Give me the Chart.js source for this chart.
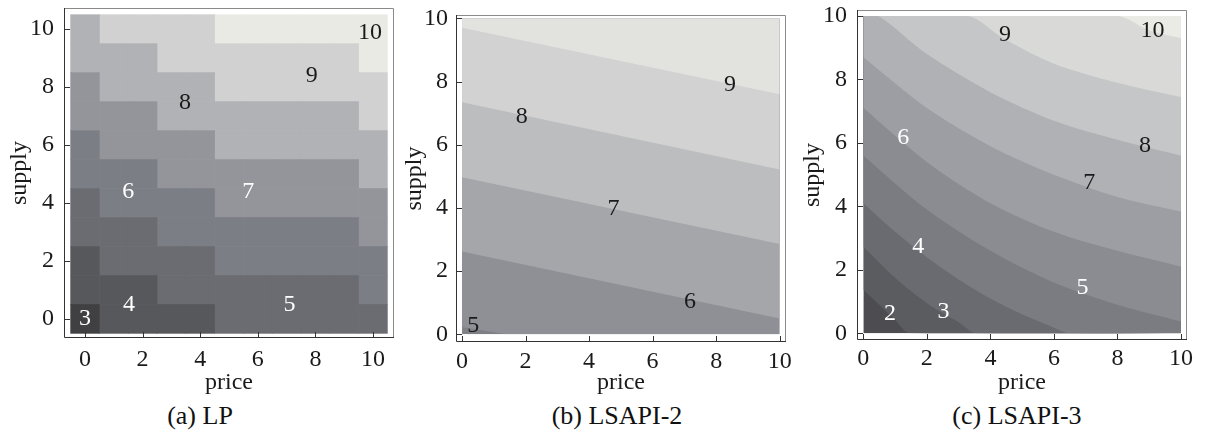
<!DOCTYPE html>
<html>
<head>
<meta charset="utf-8">
<script src="https://cdn.jsdelivr.net/npm/chart.js@4/dist/chart.umd.min.js"></script>
<style>
  body { margin: 0; background: #fff; width: 1210px; height: 444px; position: relative; overflow: hidden; }
  canvas { position: absolute; top: 0; }
  .cap { position: absolute; top: 401px; height: 30px; line-height: 30px; width: 300px; text-align: center;
         font-family: "Liberation Serif", serif; font-size: 26px; color: #111; }
</style>
</head>
<body>
<canvas id="chartA" width="400" height="400" style="left:0px;width:400px;height:400px"></canvas>
<canvas id="chartB" width="400" height="400" style="left:400px;width:400px;height:400px"></canvas>
<canvas id="chartC" width="410" height="400" style="left:800px;width:410px;height:400px"></canvas>
<div class="cap" style="left:50px">(a) LP</div>
<div class="cap" style="left:467px">(b) LSAPI-2</div>
<div class="cap" style="left:867px">(c) LSAPI-3</div>
<script>
// ticks shared by all three panels
const priceTicks = [0, 2, 4, 6, 8, 10];
const supplyTicks = [0, 2, 4, 6, 8, 10];

// (a) LP : one level per grid cell, rows = supply 0..10, columns = price 0..10
const lpPrice = [0, 1, 2, 3, 4, 5, 6, 7, 8, 9, 10];
const lpSupply = [0, 1, 2, 3, 4, 5, 6, 7, 8, 9, 10];
const lpLevels = [
  [3, 4, 4, 4, 4, 5, 5, 5, 5, 5, 5],
  [4, 4, 4, 5, 5, 5, 5, 5, 5, 5, 6],
  [4, 5, 5, 5, 5, 6, 6, 6, 6, 6, 6],
  [5, 5, 5, 6, 6, 6, 6, 6, 6, 6, 7],
  [5, 6, 6, 6, 6, 7, 7, 7, 7, 7, 7],
  [6, 6, 6, 7, 7, 7, 7, 7, 7, 7, 8],
  [6, 7, 7, 7, 7, 8, 8, 8, 8, 8, 8],
  [7, 7, 7, 8, 8, 8, 8, 8, 8, 8, 9],
  [7, 8, 8, 8, 8, 9, 9, 9, 9, 9, 9],
  [8, 8, 8, 9, 9, 9, 9, 9, 9, 9, 10],
  [8, 9, 9, 9, 9, 10, 10, 10, 10, 10, 10]
];
const lpLabelText = ['3', '4', '5', '6', '7', '8', '9', '10'];
const lpLabelPrice = [0, 1.53, 7.1, 1.5, 5.67, 3.47, 7.87, 9.9];
const lpLabelSupply = [0, 0.48, 0.48, 4.4, 4.4, 7.45, 8.4, 9.87];

// (b) LSAPI-2 : contour lines, price / supply points of each level
const b2Levels = [5, 6, 7, 8, 9];
const b2Price = [[0, 1.4, 10], [0, 10], [0, 10], [0, 10], [0, 10]];
const b2Supply = [[0.23, 0, 0], [2.62, 0.5], [4.97, 2.86], [7.35, 5.22], [9.71, 7.6]];
const b2LabelPrice = [0.35, 7.18, 4.77, 1.88, 8.44];
const b2LabelSupply = [0.28, 1.03, 3.99, 6.9, 7.9];

// (c) LSAPI-3 : curved contour lines
const c3Levels = [2, 3, 4, 5, 6, 7, 8, 9, 10];
const c3Price = [
  [0, 0.5, 1, 1.47, 10],
  [0, 1, 2, 3, 3.57, 10],
  [0, 1, 2, 3, 4, 5, 6, 6.5, 10],
  [0, 2, 4, 6, 8, 10],
  [0, 2, 4, 6, 8, 10],
  [0, 2, 4, 6, 8, 10],
  [0, 0.47, 2, 4, 6, 8, 10],
  [0, 3.3, 4.4, 6, 8, 10],
  [0, 8, 9, 10]
];
const c3Supply = [
  [1.37, 0.9, 0.42, 0, 0],
  [2.73, 1.75, 0.95, 0.35, 0, 0],
  [4.1, 3.2, 2.4, 1.7, 1.1, 0.6, 0.18, 0, 0],
  [5.6, 3.9, 2.6, 1.6, 0.9, 0.37],
  [7.1, 5.4, 4.1, 3.2, 2.6, 2.1],
  [8.7, 7.1, 5.9, 5.0, 4.3, 3.84],
  [10, 10, 8.8, 7.6, 6.7, 6.1, 5.6],
  [10, 10, 9.3, 8.5, 7.9, 7.45],
  [10, 10, 9.55, 9.3]
];
const c3LabelPrice = [0.84, 2.52, 1.73, 6.9, 1.26, 7.11, 8.87, 4.46, 9.1];
const c3LabelSupply = [0.63, 0.68, 2.73, 1.45, 6.18, 4.75, 5.9, 9.4, 9.54];

// gray shades
const lpShade = { 3: '#404042', 4: '#57585c', 5: '#6a6c72', 6: '#7c7e85', 7: '#93959b', 8: '#b0b2b5', 9: '#d1d1d1', 10: '#eaeae5' };
const b2Base = '#7f8086';
const b2Shade = ['#8e9095', '#a4a6aa', '#bcbdbf', '#d2d2d2', '#e2e2de'];
const c3Base = '#4d4d51';
const c3Shade = ['#5b5c60', '#6a6b70', '#7a7c82', '#8a8c92', '#9c9ea3', '#b0b1b4', '#c5c6c7', '#d9d9d8', '#ebebe6'];

const serif = '"Liberation Serif", "Times New Roman", serif';
const ink = '#1a1a1a';

// frame, inward ticks, contour labels, clipping of the filled bands
const framePlugin = {
  id: 'frame',
  beforeDatasetsDraw(chart, args, opts) {
    if (!opts.clipData) return;
    const ctx = chart.ctx, x = chart.scales.x, y = chart.scales.y;
    const l = x.getPixelForValue(0), r = x.getPixelForValue(10);
    const t = y.getPixelForValue(10), b = y.getPixelForValue(0);
    ctx.save();
    ctx.beginPath();
    ctx.rect(l, t, r - l, b - t);
    ctx.clip();
    ctx.fillStyle = opts.base;
    ctx.fillRect(l, t, r - l, b - t);
  },
  afterDatasetsDraw(chart, args, opts) {
    const ctx = chart.ctx, x = chart.scales.x, y = chart.scales.y;
    if (opts.clipData) ctx.restore();
    ctx.save();
    ctx.font = '24px ' + serif;
    ctx.textAlign = 'center';
    ctx.textBaseline = 'middle';
    opts.labels.forEach(lb => {
      ctx.fillStyle = lb.color;
      ctx.fillText(lb.text, x.getPixelForValue(lb.p), y.getPixelForValue(lb.s));
    });
    ctx.restore();
  },
  afterDraw(chart) {
    const ctx = chart.ctx, a = chart.chartArea, x = chart.scales.x, y = chart.scales.y;
    ctx.save();
    ctx.lineWidth = 1;
    ctx.strokeStyle = '#8a8a8a';
    ctx.beginPath();
    ctx.moveTo(a.left, a.top + 0.5);
    ctx.lineTo(a.right - 0.5, a.top + 0.5);
    ctx.lineTo(a.right - 0.5, a.bottom);
    ctx.stroke();
    ctx.strokeStyle = '#333';
    ctx.beginPath();
    ctx.moveTo(a.left + 0.5, a.top);
    ctx.lineTo(a.left + 0.5, a.bottom - 0.5);
    ctx.lineTo(a.right, a.bottom - 0.5);
    ctx.stroke();
    ctx.beginPath();
    x.ticks.forEach(t => {
      const px = Math.round(x.getPixelForValue(t.value)) + 0.5;
      ctx.moveTo(px, a.bottom);
      ctx.lineTo(px, a.bottom - 6);
    });
    y.ticks.forEach(t => {
      const py = Math.round(y.getPixelForValue(t.value)) + 0.5;
      ctx.moveTo(a.left, py);
      ctx.lineTo(a.left + 6, py);
    });
    ctx.stroke();
    ctx.restore();
  }
};

function axes(f) {
  return {
    x: {
      type: 'linear', min: f.xMin, max: f.xMax, offset: false,
      afterBuildTicks: s => { s.ticks = priceTicks.map(v => ({ value: v })); },
      afterFit: s => { s.height = f.xAxisH; s.paddingLeft = 0; s.paddingRight = 0; },
      grid: { display: false, drawTicks: false },
      border: { display: false },
      ticks: { font: { family: serif, size: 24 }, color: ink, padding: f.xPad, maxRotation: 0, autoSkip: false },
      title: { display: true, text: 'price', font: { family: serif, size: 24 }, color: ink, padding: { top: 0, bottom: f.xTitlePad } }
    },
    y: {
      type: 'linear', min: f.yMin, max: f.yMax,
      afterBuildTicks: s => { s.ticks = supplyTicks.map(v => ({ value: v })); },
      afterFit: s => { s.width = f.yAxisW; s.paddingTop = 0; s.paddingBottom = 0; },
      grid: { display: false, drawTicks: false },
      border: { display: false },
      ticks: { font: { family: serif, size: 24 }, color: ink, padding: f.yPad, autoSkip: false },
      title: { display: true, text: 'supply', font: { family: serif, size: 24 }, color: ink, padding: { top: f.yTitlePad, bottom: 0 } }
    }
  };
}

function common(f, pluginOpts) {
  return {
    responsive: false,
    animation: false,
    events: [],
    layout: { padding: { top: f.top, right: f.right, left: 0, bottom: 0 } },
    plugins: { legend: { display: false }, tooltip: { enabled: false }, frame: pluginOpts },
    scales: axes(f)
  };
}

// ---- (a) LP as floating bars, one dataset per level
const lpLevelList = [3, 4, 5, 6, 7, 8, 9, 10];
const lpDatasets = lpLevelList.map(level => {
  const cells = [];
  lpSupply.forEach((s, i) => {
    lpPrice.forEach((p, j) => {
      if (lpLevels[i][j] === level) cells.push({ x: p, y: [s - 0.5, s + 0.5] });
    });
  });
  return {
    label: 'LP ' + level, data: cells, backgroundColor: lpShade[level],
    borderWidth: 0, grouped: false, barPercentage: 1, categoryPercentage: 1
  };
});
const lpLabels = lpLabelText.map((t, i) => ({
  text: t, p: lpLabelPrice[i], s: lpLabelSupply[i], color: Number(t) <= 7 ? '#fff' : ink
}));

new Chart(document.getElementById('chartA'), {
  type: 'bar',
  data: { datasets: lpDatasets },
  options: common({ top: 8, right: 6, yAxisW: 64, xAxisH: 62, xMin: -0.73, xMax: 10.73, yMin: -0.66, yMax: 10.73,
                    xPad: 7, yPad: 10, xTitlePad: 3, yTitlePad: 5.5 },
                  { clipData: false, labels: lpLabels }),
  plugins: [framePlugin]
});

// contour charts: each level fills the area above its line, lowest level drawn first
function contourSets(levels, prices, supplies, shades, tension) {
  return levels.map((lv, k) => ({
    label: 'level ' + lv,
    data: prices[k].map((p, i) => ({ x: p, y: supplies[k][i] })),
    fill: 'end',
    backgroundColor: shades[k],
    borderWidth: 0,
    pointRadius: 0,
    tension: tension
  })).reverse();
}

// ---- (b) LSAPI-2
new Chart(document.getElementById('chartB'), {
  type: 'line',
  data: { datasets: contourSets(b2Levels, b2Price, b2Supply, b2Shade, 0) },
  options: common({ top: 15, right: 14, yAxisW: 56, xAxisH: 58, xMin: -0.19, xMax: 10.2, yMin: -0.244, yMax: 10.11,
                    xPad: 5, yPad: 8, xTitlePad: 3, yTitlePad: 0 },
                  { clipData: true, base: b2Base,
                    labels: b2Levels.map((lv, i) => ({ text: String(lv), p: b2LabelPrice[i], s: b2LabelSupply[i], color: ink })) }),
  plugins: [framePlugin]
});

// ---- (c) LSAPI-3
new Chart(document.getElementById('chartC'), {
  type: 'line',
  data: { datasets: contourSets(c3Levels, c3Price, c3Supply, c3Shade, 0.3) },
  options: common({ top: 10, right: 23, yAxisW: 57, xAxisH: 60, xMin: -0.2, xMax: 10.19, yMin: -0.21, yMax: 10.19,
                    xPad: 4, yPad: 10, xTitlePad: 3, yTitlePad: -2 },
                  { clipData: true, base: c3Base,
                    labels: c3Levels.map((lv, i) => ({ text: String(lv), p: c3LabelPrice[i], s: c3LabelSupply[i], color: lv <= 6 ? '#fff' : ink })) }),
  plugins: [framePlugin]
});
</script>
</body>
</html>
